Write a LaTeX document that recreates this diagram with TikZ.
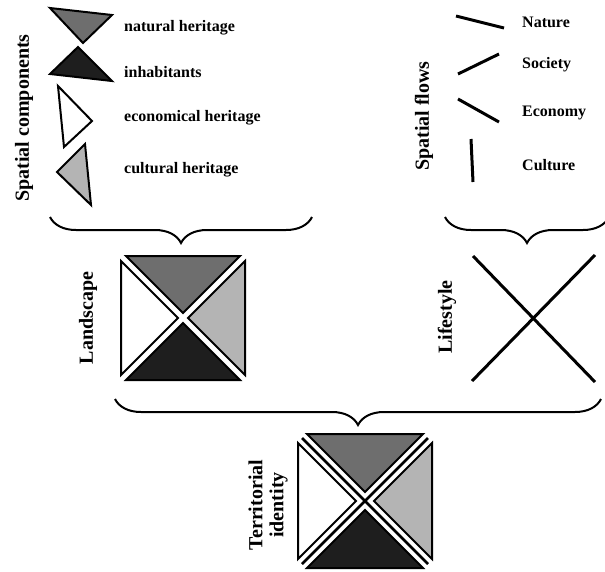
\documentclass[tikz,border=0pt]{standalone}
\usepackage{fontspec}
\setmainfont{Liberation Serif}
\usetikzlibrary{positioning, decorations.pathreplacing}

\definecolor{natgray}{HTML}{6E6E6E}
\definecolor{inhgray}{HTML}{1E1E1E}
\definecolor{culgray}{HTML}{B4B4B4}

\tikzset{
  tri/.style={draw=black, line width=2pt, line join=miter},
  flow/.style={line width=3pt},
  brc/.style={decorate, decoration={brace, mirror, amplitude=26pt}, line width=2pt},
  lbl/.style={anchor=west, inner sep=0pt, font=\bfseries\fontsize{16}{18}\selectfont},
  vlbl/.style={rotate=90, inner sep=0pt, align=center, font=\bfseries\fontsize{20}{21}\selectfont}
}

\begin{document}
\begin{tikzpicture}[x=1pt, y=-1pt]
      \useasboundingbox (0,0) rectangle (605,571);

      % spatial components
      \draw[tri, fill=natgray] (50,8) -- (112,15) -- (83,43) -- cycle;
      \draw[tri, fill=inhgray] (78,47) -- (112,81) -- (50,74) -- cycle;
      \draw[tri, fill=white] (58,86) -- (92,121) -- (64,147) -- cycle;
      \draw[tri, fill=culgray] (85,144) -- (91,205) -- (57,172) -- cycle;

      \node[lbl] (natlbl) at (124,28) {natural heritage};
      \node[lbl] (inhlbl) at (124,72) {inhabitants};
      \node[lbl] (ecolbl) at (124,118) {economical heritage};
      \node[lbl] (cullbl) at (124,170) {cultural heritage};
      \node[vlbl] (comp) at (24,118) {Spatial components};

      % spatial flows
      \draw[flow] (456,16) -- (504,28);
      \draw[flow] (458,74) -- (499,54);
      \draw[flow] (458,99) -- (499,122);
      \draw[flow] (471,139) -- (473,182);

      \node[lbl] (natflow) at (522,22) {Nature};
      \node[lbl] (socflow) at (522,65) {Society};
      \node[lbl] (ecoflow) at (522,113) {Economy};
      \node[lbl] (culflow) at (522,165) {Culture};
      \node[vlbl] (flows) at (424,116) {Spatial flows};

      % upper braces
      \coordinate (lbA) at (50,217);
      \coordinate (lbB) at (312,217);
      \coordinate (rbA) at (445,217);
      \coordinate (rbB) at (609,217);
      \draw[brc] (lbA) -- (lbB);
      \draw[brc] (rbA) -- (rbB);

      % landscape
      \begin{scope}[shift={(183,318)}]
        \draw[tri, fill=natgray] (-57,-62) -- (57,-62) -- (0,-5) -- cycle;
        \draw[tri, fill=white] (-62,-57) -- (-62,57) -- (-5,0) -- cycle;
        \draw[tri, fill=culgray] (62,-57) -- (62,57) -- (5,0) -- cycle;
        \draw[tri, fill=inhgray] (-57,62) -- (57,62) -- (0,5) -- cycle;
      \end{scope}
      \node[vlbl] (land) at (88,318) {Landscape};

      % lifestyle
      \coordinate (xa) at (473,256);
      \coordinate (xb) at (595,382);
      \coordinate (xc) at (595,255);
      \coordinate (xd) at (472,381);
      \draw[flow] (xa) -- (xb);
      \draw[flow] (xc) -- (xd);
      \node[vlbl] (life) at (447,317) {Lifestyle};

      % lower brace
      \coordinate (bbA) at (115,399);
      \coordinate (bbB) at (601,399);
      \draw[brc] (bbA) -- (bbB);

      % territorial identity
      \begin{scope}[shift={(365,501)}]
        \draw[tri, fill=natgray] (-58,-67) -- (58,-67) -- (0,-9) -- cycle;
        \draw[tri, fill=white] (-67,-58) -- (-67,58) -- (-9,0) -- cycle;
        \draw[tri, fill=culgray] (67,-58) -- (67,58) -- (9,0) -- cycle;
        \draw[tri, fill=inhgray] (-58,67) -- (58,67) -- (0,9) -- cycle;
        \draw[line width=2.5pt] (-63,-63) -- (63,63);
        \draw[line width=2.5pt] (63,-63) -- (-63,63);
      \end{scope}
      \node[vlbl] (terr) at (268,505) {Territorial\\identity};
    \end{tikzpicture}
\end{document}
